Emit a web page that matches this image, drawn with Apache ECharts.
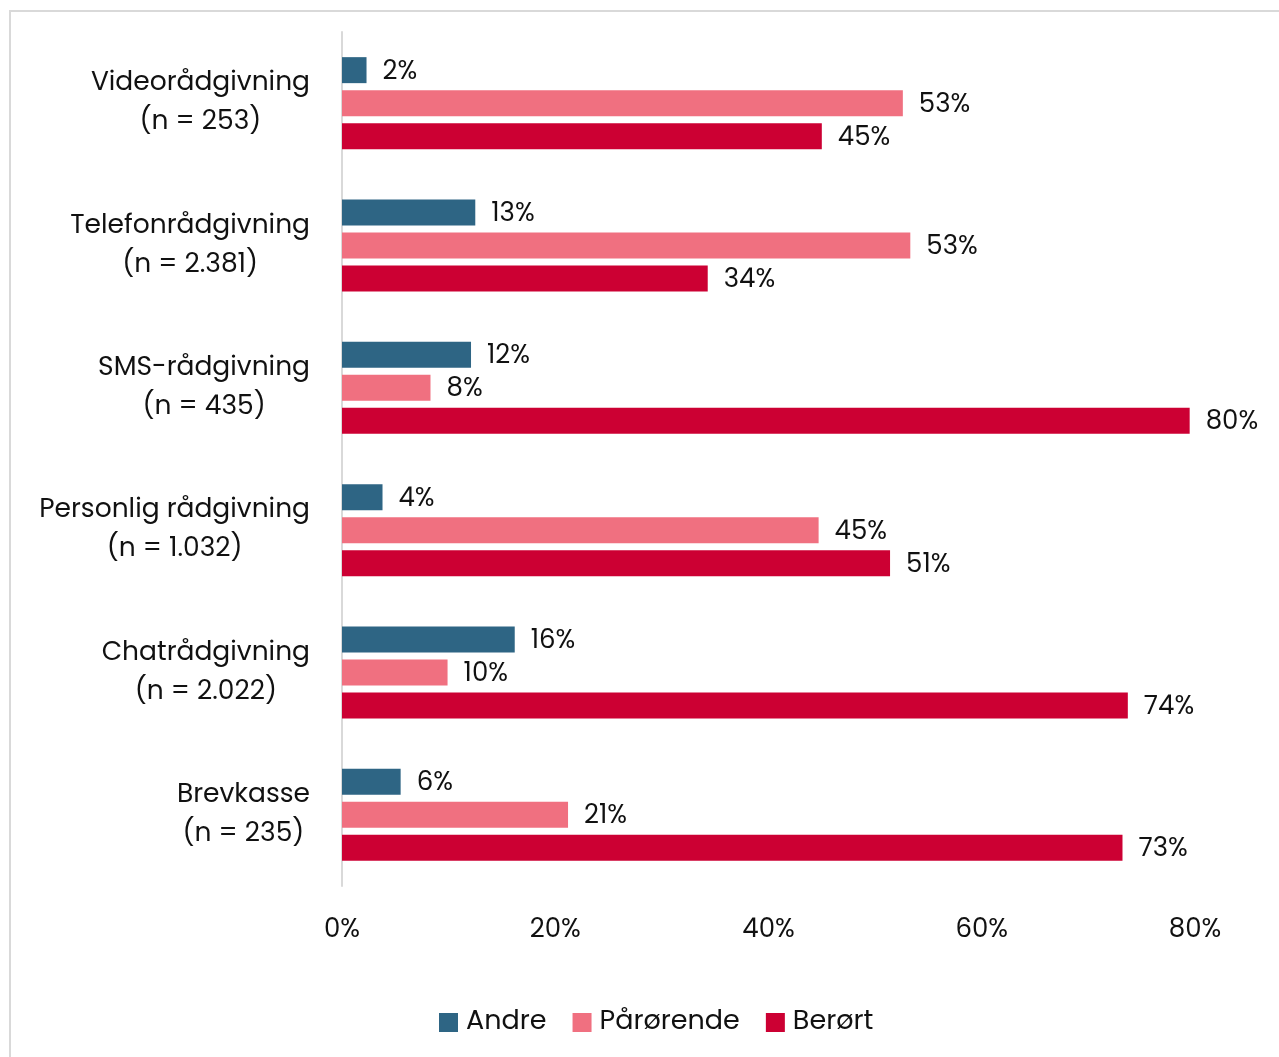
<!DOCTYPE html>
<html>
<head>
<meta charset="utf-8">
<script src="https://cdn.jsdelivr.net/npm/echarts@6/dist/echarts.min.js"></script>
<style>
  html, body { margin: 0; padding: 0; background: #fff; }
  #frame { position: absolute; left: 9px; top: 10px; width: 1290px; height: 1080px; border: 2px solid #d9d9d9; box-sizing: border-box; }
  #myChart { position: absolute; left: 0; top: 0; width: 1279px; height: 1057px; }
</style>
</head>
<body>
<div id="frame"></div>
<div id="myChart"></div>
<script>
// kategorier (top -> bund)
var categories = [
  'Videorådgivning\n(n = 253)',
  'Telefonrådgivning\n(n = 2.381)',
  'SMS-rådgivning\n(n = 435)',
  'Personlig rådgivning\n(n = 1.032)',
  'Chatrådgivning\n(n = 2.022)',
  'Brevkasse\n(n = 235)'
];
var andre = [2.3, 12.5, 12.1, 3.8, 16.2, 5.5];
var paarorende = [52.6, 53.3, 8.3, 44.7, 9.9, 21.2];
var berort = [45.0, 34.3, 79.5, 51.4, 73.7, 73.2];
var xTicks = [0, 20, 40, 60, 80];

var font = 'Poppins, Inter, "Open Sans", sans-serif';

function barLabel() {
  return {
    show: true,
    position: 'right',
    distance: 16,
    offset: [0, 2],
    color: '#111',
    fontSize: 26,
    fontFamily: font,
    formatter: function (p) { return Math.round(p.value) + '%'; }
  };
}

var myChart = echarts.init(document.getElementById('myChart'));
myChart.setOption({
  animation: false,
  grid: { left: 342, right: 84, top: 32, bottom: 171 },
  legend: {
    bottom: 16,
    left: 434,
    itemWidth: 19,
    itemHeight: 19,
    itemGap: 26,
    icon: 'rect',
    textStyle: { fontSize: 27, color: '#111', fontFamily: font, padding: [0, 0, 0, 3] },
    data: ['Andre', 'Pårørende', 'Berørt']
  },
  xAxis: {
    type: 'value',
    min: xTicks[0],
    max: xTicks[xTicks.length - 1],
    interval: 20,
    axisLine: { show: false },
    axisTick: { show: false },
    splitLine: { show: false },
    axisLabel: {
      margin: 31,
      fontSize: 26,
      color: '#111',
      fontFamily: font,
      formatter: '{value}%'
    }
  },
  yAxis: {
    type: 'category',
    inverse: true,
    data: categories,
    axisTick: { show: false },
    axisLine: { lineStyle: { color: '#d9d9d9', width: 2 } },
    axisLabel: {
      margin: 32,
      color: '#111',
      align: 'right',
      formatter: function (v) {
        return v.split('\n').map(function (s) { return '{c|' + s + '}'; }).join('\n');
      },
      rich: {
        c: { align: 'center', fontSize: 26.5, lineHeight: 39, color: '#111', fontFamily: font }
      }
    }
  },
  series: [
    {
      name: 'Andre', type: 'bar', data: andre,
      itemStyle: { color: '#2E6584' },
      barWidth: 26, barGap: '27%', barCategoryGap: '35%',
      label: barLabel()
    },
    {
      name: 'Pårørende', type: 'bar', data: paarorende,
      itemStyle: { color: '#F07080' },
      barWidth: 26, barGap: '27%',
      label: barLabel()
    },
    {
      name: 'Berørt', type: 'bar', data: berort,
      itemStyle: { color: '#CC0033' },
      barWidth: 26, barGap: '27%',
      label: barLabel()
    }
  ]
});
</script>
</body>
</html>
